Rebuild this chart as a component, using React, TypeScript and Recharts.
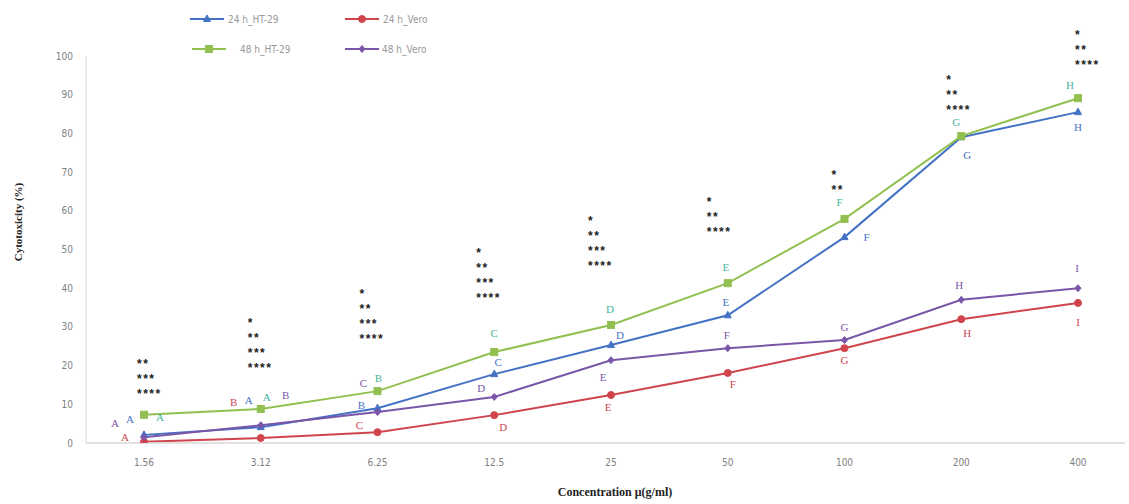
import { LineChart, Line, XAxis, YAxis, LabelList, ReferenceDot } from "recharts"

const CONCENTRATIONS = ["1.56", "3.12", "6.25", "12.5", "25", "50", "100", "200", "400"]

const HT29_24H = [2.1, 4.1, 9.0, 17.8, 25.3, 33.0, 53.2, 79.0, 85.5]
const HT29_48H = [7.3, 8.8, 13.4, 23.5, 30.5, 41.3, 57.9, 79.3, 89.1]
const VERO_24H = [0.3, 1.3, 2.8, 7.2, 12.4, 18.1, 24.5, 32.0, 36.2]
const VERO_48H = [1.5, 4.6, 8.0, 11.9, 21.4, 24.5, 26.6, 37.0, 40.0]

// letters of the significance groups, per series
const HT29_24H_LETTERS = ["A", "A", "B", "C", "D", "E", "F", "G", "H"]
const HT29_48H_LETTERS = ["A", "A", "B", "C", "D", "E", "F", "G", "H"]
const VERO_24H_LETTERS = ["A", "B", "C", "D", "E", "F", "G", "H", "I"]
const VERO_48H_LETTERS = ["A", "B", "C", "D", "E", "F", "G", "H", "I"]

// asterisk stacks above each concentration, with the level of the top line
const STARS = [
  ["**", "***", "****"],
  ["*", "**", "***", "****"],
  ["*", "**", "***", "****"],
  ["*", "**", "***", "****"],
  ["*", "**", "***", "****"],
  ["*", "**", "****"],
  ["*", "**"],
  ["*", "**", "****"],
  ["*", "**", "****"],
]
const STAR_LEVEL = [21.7, 32.3, 39.8, 50.4, 58.7, 63.6, 70.5, 95.1, 106.7]

const Y_TICKS = [0, 10, 20, 30, 40, 50, 60, 70, 80, 90, 100]

// label offsets (px) from each point
const OFFSETS = {
  ht24: [[-14, -16], [-12, -27], [-16, -3], [4, -12], [9, -10], [-2, -13], [22, 0], [6, 18], [0, 15]],
  ht48: [[16, 2], [6, -12], [1, -13], [0, -19], [-1, -16], [-2, -16], [-5, -17], [-5, -14], [-8, -13]],
  vero24: [[-19, -5], [-27, -36], [-18, -7], [9, 12], [-3, 12], [5, 11], [0, 12], [6, 14], [0, 19]],
  vero48: [[-29, -14], [25, -30], [-14, -29], [-13, -9], [-8, 17], [-1, -13], [0, -13], [-2, -15], [-1, -20]],
}
const STAR_DX = [-7, -13, -18, -18, -23, -21, -13, -15, -3]

const BLUE = "#4472c4"
const RED = "#d0454c"
const GREEN = "#92c050"
const PURPLE = "#7a56a8"
const GREEN_TEXT = "#45b39c"

const TICK_FONT = '"Liberation Sans Narrow", "DejaVu Sans Condensed", "Liberation Sans", sans-serif'
const SERIF = '"Liberation Serif", "DejaVu Serif", serif'

const data = CONCENTRATIONS.map((c, i) => ({
  name: c,
  ht24: HT29_24H[i],
  ht48: HT29_48H[i],
  vero24: VERO_24H[i],
  vero48: VERO_48H[i],
}))

const letterLabel = (letters: string[], offs: number[][], color: string) => (props: any) => {
  const { x, y, index } = props
  if (x == null || y == null) return null
  return (
    <text
      x={x + offs[index][0]}
      y={y + offs[index][1]}
      fill={color}
      fontFamily={SERIF}
      fontSize={11}
      textAnchor="middle"
      dominantBaseline="central"
    >
      {letters[index]}
    </text>
  )
}

const TriangleDot = (props: any) => {
  const { cx, cy } = props
  if (cx == null || cy == null) return null
  return <path d={`M${cx},${cy - 4}L${cx + 3.5},${cy + 2.5}L${cx - 3.5},${cy + 2.5}Z`} fill={BLUE} stroke={BLUE} />
}
const SquareDot = (props: any) => {
  const { cx, cy } = props
  if (cx == null || cy == null) return null
  return <rect x={cx - 3.5} y={cy - 3.5} width={7} height={7} fill={GREEN} stroke={GREEN} />
}
const CircleDot = (props: any) => {
  const { cx, cy } = props
  if (cx == null || cy == null) return null
  return <circle cx={cx} cy={cy} r={3.5} fill={RED} stroke={RED} />
}
const DiamondDot = (props: any) => {
  const { cx, cy } = props
  if (cx == null || cy == null) return null
  return <path d={`M${cx},${cy - 3.5}L${cx + 3},${cy}L${cx},${cy + 3.5}L${cx - 3},${cy}Z`} fill={PURPLE} stroke={PURPLE} />
}

const LEGEND = [
  { label: "24 h_HT-29", color: BLUE, Dot: TriangleDot, x: 190, y: 19, tx: 228 },
  { label: "24 h_Vero", color: RED, Dot: CircleDot, x: 345, y: 19, tx: 383 },
  { label: "48 h_HT-29", color: GREEN, Dot: SquareDot, x: 192, y: 49, tx: 240 },
  { label: "48 h_Vero", color: PURPLE, Dot: DiamondDot, x: 345, y: 49, tx: 382 },
]

function LegendBox() {
  return (
    <svg width={500} height={70} style={{ position: "absolute", left: 0, top: 0 }}>
      {LEGEND.map((l) => (
        <g key={l.label}>
          <line x1={l.x} x2={l.x + 34} y1={l.y} y2={l.y} stroke={l.color} strokeWidth={2} />
          <l.Dot cx={l.x + 17} cy={l.y} />
          <text x={l.tx} y={l.y} fill="#999" fontSize={10} fontFamily={TICK_FONT} dominantBaseline="central">
            {l.label}
          </text>
        </g>
      ))}
    </svg>
  )
}

export default function App() {
  return (
    <div style={{ position: "absolute", left: 0, top: 0, width: 1129, height: 504, background: "#fff" }}>
      <LineChart width={1129} height={504} data={data} margin={{ top: 56, right: 4, bottom: 31, left: 0 }}>
        <XAxis
          dataKey="name"
          height={30}
          padding={{ left: 58, right: 47 }}
          axisLine={{ stroke: "#d9d9d9", strokeWidth: 1.5 }}
          tickLine={false}
          tickMargin={10}
          tick={{ fill: "#7f7f7f", fontSize: 10, fontFamily: TICK_FONT }}
          label={{
            content: () => (
              <text
                x={615}
                y={492}
                textAnchor="middle"
                dominantBaseline="central"
                fontFamily={SERIF}
                fontWeight="bold"
                fontSize={12}
                fill="#222"
              >
                Concentration μ(g/ml)
              </text>
            ),
          }}
        />
        <YAxis
          type="number"
          domain={[0, 100]}
          allowDataOverflow
          ticks={Y_TICKS}
          width={86}
          axisLine={{ stroke: "#d9d9d9" }}
          tickLine={false}
          tickSize={0}
          tickMargin={13}
          tick={{ fill: "#7f7f7f", fontSize: 10, fontFamily: TICK_FONT }}
          label={{
            content: () => (
              <text
                x={18}
                y={222}
                transform="rotate(-90 18 222)"
                textAnchor="middle"
                dominantBaseline="central"
                fontFamily={SERIF}
                fontWeight="bold"
                fontSize={11}
                fill="#222"
              >
                Cytotoxicity (%)
              </text>
            ),
          }}
        />
        <Line dataKey="ht24" stroke={BLUE} strokeWidth={2} dot={<TriangleDot />} activeDot={false} isAnimationActive={false}>
          <LabelList dataKey="ht24" content={letterLabel(HT29_24H_LETTERS, OFFSETS.ht24, BLUE)} />
        </Line>
        <Line dataKey="vero24" stroke={RED} strokeWidth={2} dot={<CircleDot />} activeDot={false} isAnimationActive={false}>
          <LabelList dataKey="vero24" content={letterLabel(VERO_24H_LETTERS, OFFSETS.vero24, RED)} />
        </Line>
        <Line dataKey="ht48" stroke={GREEN} strokeWidth={2} dot={<SquareDot />} activeDot={false} isAnimationActive={false}>
          <LabelList dataKey="ht48" content={letterLabel(HT29_48H_LETTERS, OFFSETS.ht48, GREEN_TEXT)} />
        </Line>
        <Line dataKey="vero48" stroke={PURPLE} strokeWidth={2} dot={<DiamondDot />} activeDot={false} isAnimationActive={false}>
          <LabelList dataKey="vero48" content={letterLabel(VERO_48H_LETTERS, OFFSETS.vero48, PURPLE)} />
        </Line>
        {CONCENTRATIONS.map((c, i) => (
          <ReferenceDot
            key={c}
            x={c}
            y={STAR_LEVEL[i]}
            r={1}
            fill="none"
            stroke="none"
            ifOverflow="visible"
            label={{
              content: (p: any) => {
                const vb = p.viewBox || {}
                const x0 = (vb.x ?? 0) + (vb.width ?? 0) / 2 + STAR_DX[i]
                const y0 = (vb.y ?? 0) + (vb.height ?? 0) / 2
                return (
                  <g>
                    {STARS[i].map((s, k) => (
                      <text
                        key={k}
                        x={x0}
                        y={y0 + k * 15 + 5}
                        fontFamily='"Liberation Sans", sans-serif'
                        fontWeight="bold"
                        fontSize={12}
                        letterSpacing={1.5}
                        fill="#222"
                        dominantBaseline="central"
                      >
                        {s}
                      </text>
                    ))}
                  </g>
                )
              },
            }}
          />
        ))}
      </LineChart>
      <LegendBox />
    </div>
  )
}
